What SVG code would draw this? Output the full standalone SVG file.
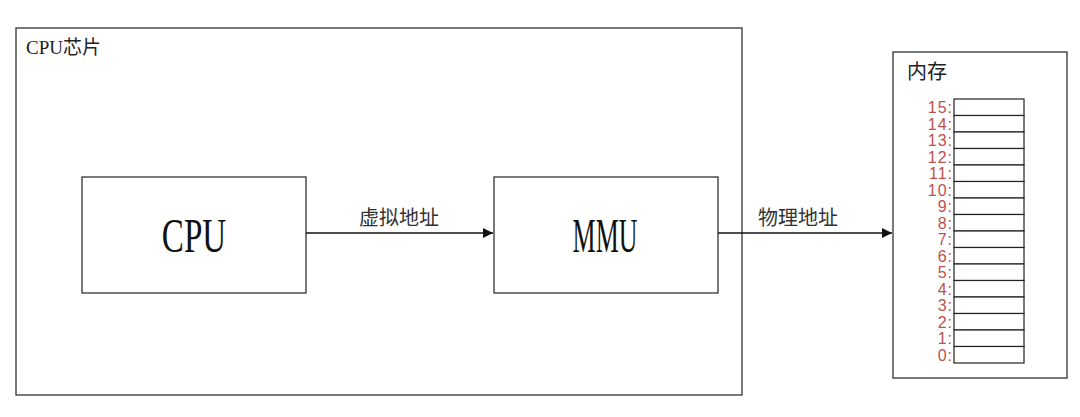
<svg xmlns="http://www.w3.org/2000/svg" width="1080" height="417" viewBox="0 0 1080 417">
<style>
.box{fill:#fff;stroke:#333;stroke-width:1.3}
.cell{fill:#fff;stroke:#222;stroke-width:1.2}
.big{font-family:"Liberation Serif",serif;font-size:48px;fill:#111}
.lbl{font-family:"Noto Sans CJK SC",sans-serif;font-size:20px;fill:#333}
.idx{font-family:"Liberation Sans","Noto Sans",sans-serif;font-size:16px;letter-spacing:1px;fill:#c0504d;text-anchor:end}
.conn{stroke:#111;stroke-width:1.3;fill:none}
</style>
<defs>
<marker id="ah" viewBox="0 0 10 10" refX="10" refY="5" markerWidth="10" markerHeight="10" markerUnits="userSpaceOnUse" orient="auto">
<path d="M0,0 L10,5 L0,10 z" fill="#111"/>
</marker>
</defs>
<rect width="1080" height="417" fill="#fff"/>
<g id="cpu-chip">
<rect class="box" x="16" y="28" width="726" height="367"/>
<text x="26" y="54" font-family="'Liberation Serif','Noto Sans CJK SC',serif" font-size="19" fill="#222">CPU芯片</text>
</g>
<g id="cpu">
<rect class="box" x="82" y="177" width="224" height="116"/>
<text class="big" transform="translate(194,252) scale(0.69,1)" text-anchor="middle">CPU</text>
</g>
<g id="mmu">
<rect class="box" x="494" y="177" width="224" height="116"/>
<text class="big" transform="translate(605,252) scale(0.54,1)" text-anchor="middle">MMU</text>
</g>
<g id="memory">
<rect class="box" x="893" y="52" width="174" height="326"/>
<text x="907" y="79" font-family="'Noto Sans CJK SC',sans-serif" font-size="20" fill="#222">内存</text>
<g id="cells">
<rect class="cell" x="954" y="99" width="70" height="16.5"/>
<rect class="cell" x="954" y="115.5" width="70" height="16.5"/>
<rect class="cell" x="954" y="132" width="70" height="16.5"/>
<rect class="cell" x="954" y="148.5" width="70" height="16.5"/>
<rect class="cell" x="954" y="165" width="70" height="16.5"/>
<rect class="cell" x="954" y="181.5" width="70" height="16.5"/>
<rect class="cell" x="954" y="198" width="70" height="16.5"/>
<rect class="cell" x="954" y="214.5" width="70" height="16.5"/>
<rect class="cell" x="954" y="231" width="70" height="16.5"/>
<rect class="cell" x="954" y="247.5" width="70" height="16.5"/>
<rect class="cell" x="954" y="264" width="70" height="16.5"/>
<rect class="cell" x="954" y="280.5" width="70" height="16.5"/>
<rect class="cell" x="954" y="297" width="70" height="16.5"/>
<rect class="cell" x="954" y="313.5" width="70" height="16.5"/>
<rect class="cell" x="954" y="330" width="70" height="16.5"/>
<rect class="cell" x="954" y="346.5" width="70" height="16.5"/>
</g>
<g id="indices">
<text class="idx" x="953" y="113">15:</text>
<text class="idx" x="953" y="129.5">14:</text>
<text class="idx" x="953" y="146">13:</text>
<text class="idx" x="953" y="162.5">12:</text>
<text class="idx" x="953" y="179">11:</text>
<text class="idx" x="953" y="195.5">10:</text>
<text class="idx" x="953" y="212">9:</text>
<text class="idx" x="953" y="228.5">8:</text>
<text class="idx" x="953" y="245">7:</text>
<text class="idx" x="953" y="261.5">6:</text>
<text class="idx" x="953" y="278">5:</text>
<text class="idx" x="953" y="294.5">4:</text>
<text class="idx" x="953" y="311">3:</text>
<text class="idx" x="953" y="327.5">2:</text>
<text class="idx" x="953" y="344">1:</text>
<text class="idx" x="953" y="360.5">0:</text>
</g>
</g>
<g id="connectors">
<line class="conn" x1="306" y1="233" x2="493" y2="233" marker-end="url(#ah)"/>
<text class="lbl" x="399" y="225" text-anchor="middle">虚拟地址</text>
<line class="conn" x1="718" y1="233" x2="892" y2="233" marker-end="url(#ah)"/>
<text class="lbl" x="798" y="225" text-anchor="middle">物理地址</text>
</g>
</svg>
